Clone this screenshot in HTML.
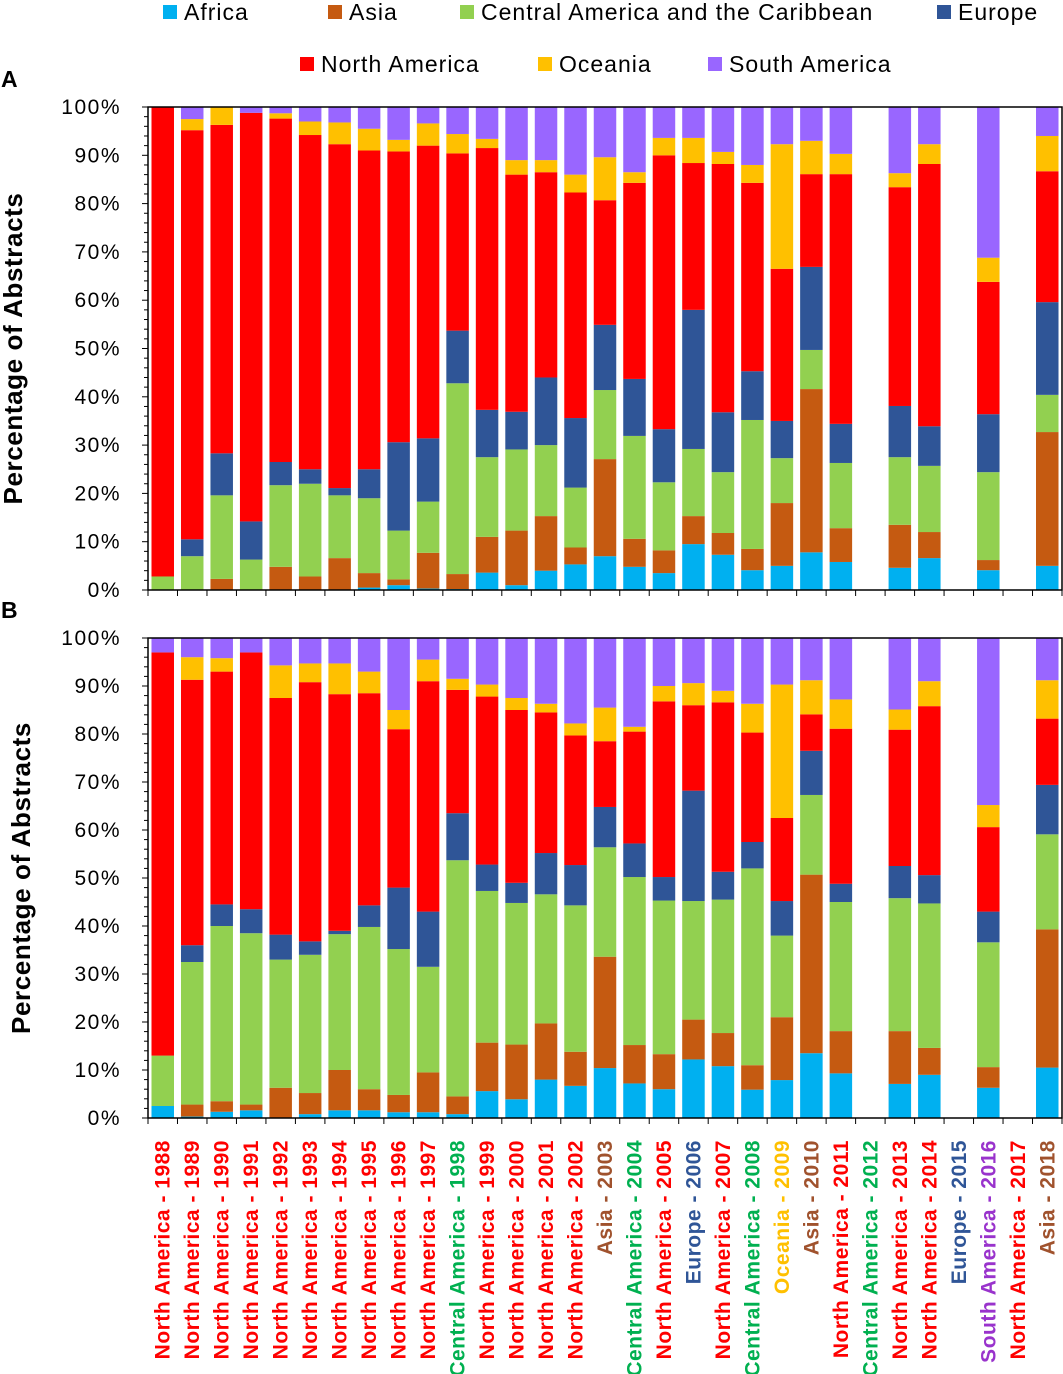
<!DOCTYPE html>
<html><head><meta charset="utf-8"><style>
body{margin:0;background:#fff;font-family:"Liberation Sans",Arial,sans-serif}
svg{display:block}
</style></head><body>
<svg id="chart" width="1063" height="1374" xmlns="http://www.w3.org/2000/svg" font-family="Liberation Sans, Arial, sans-serif"></svg>
<script>
const years = [1988,1989,1990,1991,1992,1993,1994,1995,1996,1997,1998,1999,2000,2001,2002,2003,2004,2005,2006,2007,2008,2009,2010,2011,2012,2013,2014,2015,2016,2017,2018];
const dominant = ["North America","North America","North America","North America","North America","North America","North America","North America","North America","North America","Central America","North America","North America","North America","North America","Asia","Central America","North America","Europe","North America","Central America","Oceania","Asia","North America","Central America","North America","North America","Europe","South America","North America","Asia"];
const seriesNames = ["Africa","Asia","Central America and the Caribbean","Europe","North America","Oceania","South America"];
const yTicks = [0,10,20,30,40,50,60,70,80,90,100];
// Panel A cumulative tops (%), null = no data
const aAfrica = [0,0,0,0,0,0,0,0.5,1,0.3,0.2,3.6,1,4,5.3,7,4.8,3.5,9.5,7.3,4.1,5,7.8,5.8,null,4.6,6.6,null,4.1,null,5];
const aAsia = [0,0,2.3,0,4.8,2.8,6.6,3.5,2.2,7.7,3.3,11,12.3,15.3,8.8,27.1,10.6,8.2,15.3,11.8,8.5,18,41.6,12.8,null,13.5,12,null,6.2,null,32.7];
const aCentral = [2.8,7,19.6,6.3,21.7,22,19.6,19,12.3,18.3,42.8,27.5,29.1,30,21.2,41.4,31.9,22.3,29.2,24.4,35.2,27.3,49.7,26.3,null,27.5,25.7,null,24.4,null,40.4];
const aEurope = [2.8,10.5,28.3,14.2,26.5,25,21.1,25,30.6,31.4,53.7,37.3,36.9,44,35.6,54.9,43.7,33.3,58,36.8,45.3,35,66.9,34.4,null,38.1,33.9,null,36.4,null,59.6];
const aNorth = [100,95.2,96.3,98.8,97.6,94.2,92.3,91,90.8,92,90.4,91.5,86,86.5,82.3,80.7,84.3,90,88.4,88.2,84.3,66.5,86.1,86.1,null,83.4,88.2,null,63.8,null,86.7];
const aOceania = [100,97.5,100,98.8,98.7,97,96.8,95.5,93.2,96.6,94.4,93.4,89,89,86,89.6,86.5,93.6,93.6,90.7,88,92.3,93,90.3,null,86.3,92.3,null,68.8,null,94];
// Panel B cumulative tops (%)
const bAfrica = [2.5,0.3,1.3,1.6,0,0.8,1.6,1.6,1.2,1.2,0.8,5.6,3.9,8,6.7,10.4,7.2,6,12.2,10.8,5.9,7.9,13.5,9.3,null,7.1,9,null,6.3,null,10.5];
const bAsia = [2.5,2.8,3.5,2.8,6.3,5.2,10,6,4.8,9.5,4.5,15.7,15.3,19.7,13.8,33.6,15.2,13.3,20.5,17.7,11,21,50.7,18.1,null,18.1,14.6,null,10.6,null,39.3];
const bCentral = [13,32.5,40,38.5,33,34,38.3,39.8,35.2,31.5,53.7,47.3,44.8,46.6,44.3,56.4,50.2,45.3,45.2,45.5,52,38,67.3,45,null,45.8,44.7,null,36.6,null,59.1];
const bEurope = [13,36,44.5,43.5,38.2,36.8,39,44.3,48,43,63.5,52.8,49,55.2,52.7,64.8,57.2,50.2,68.2,51.3,57.5,45.2,76.5,48.8,null,52.5,50.6,null,43,null,69.4];
const bNorth = [97,91.3,93,97,87.5,90.8,88.3,88.5,81,91,89.2,87.8,85,84.5,79.7,78.5,80.5,86.8,86,86.6,80.3,62.5,84.1,81.1,null,80.9,85.8,null,60.6,null,83.2];
const bOceania = [97,96,95.8,97,94.3,94.7,94.7,93,85,95.5,91.5,90.3,87.5,86.3,82.2,85.5,81.5,90,90.6,89,86.3,90.3,91.2,87.2,null,85.1,91,null,65.2,null,91.2];

const colors = ["#00B0F0","#C55A11","#92D050","#2F5597","#FF0000","#FFC000","#9966FF"];
const labelColors = {"North America":"#FF0000","Central America":"#00B050","Asia":"#A0522D","Europe":"#2F5597","Oceania":"#FFC000","South America":"#9933CC"};
const NS="http://www.w3.org/2000/svg";
const svg=document.getElementById('chart');
function mk(tag,attrs,parent){const e=document.createElementNS(NS,tag);for(const k in attrs)e.setAttribute(k,attrs[k]);(parent||svg).appendChild(e);return e;}
const L=148,R=1062,band=(R-L)/years.length,bw=22.5;
function xc(i){return L+band*(i+0.5);}

function panel(top,bottom,cums,letter,titleX,name){
  const g=mk('g',{});
  
  
  const y=v=>bottom-(bottom-top)*v/100;
  years.forEach((yr,i)=>{
    if(cums[0][i]===null)return;
    let prev=0;
    for(let s=0;s<7;s++){
      const c=s<6?cums[s][i]:100;
      if(c>prev){
        const r=mk('rect',{x:xc(i)-bw/2,y:y(c),width:bw,height:y(prev)-y(c),fill:colors[s]},g);
        
        
      }
      prev=Math.max(prev,c);
    }
  });
  const ax=mk('path',{d:`M${L} ${top}H${R}V${bottom}H${L}Z`,fill:'none',stroke:'#000','stroke-width':1.5},g);
  
  
  for(let v=0;v<=100;v+=2){mk('line',{x1:L-(v%10===0?6:4),x2:L,y1:y(v),y2:y(v),stroke:'#000','stroke-width':1},g);}
  for(let i=0;i<=years.length;i++){const xx=L+band*i;mk('line',{x1:xx,x2:xx,y1:bottom,y2:bottom+6,stroke:'#000','stroke-width':1},g);}
  yTicks.forEach(v=>{
    const t=mk('text',{x:121,y:y(v)+7,'text-anchor':'end','font-size':21,'letter-spacing':1.5},g);t.textContent=v+'%';
    
    
  });
  const tt=mk('text',{x:0,y:0,transform:`translate(${titleX},${(top+bottom)/2}) rotate(-90)`,'text-anchor':'middle','font-size':26,'font-weight':'bold','letter-spacing':0.6},g);
  tt.textContent='Percentage of Abstracts';
  
  
  const lt=mk('text',{x:1,y:top-20,'font-size':23,'font-weight':'bold'},g);lt.textContent=letter;
  
  
}
panel(107,590,[aAfrica,aAsia,aCentral,aEurope,aNorth,aOceania],'A',22,'panel-a');
panel(638,1118,[bAfrica,bAsia,bCentral,bEurope,bNorth,bOceania],'B',30,'panel-b');

years.forEach((yr,i)=>{
  const t=mk('text',{x:0,y:0,transform:`translate(${xc(i)+7},1140) rotate(-90)`,'text-anchor':'end','font-size':21,'letter-spacing':0.5,'font-weight':'bold',fill:labelColors[dominant[i]]});
  t.textContent=dominant[i]+' - '+yr;
  
  
});

const legendPos=[[163,12],[328,12],[460,12],[937,12],[300,64],[538,64],[708,64]];
const legendLabels=["Africa","Asia","Central America and the Caribbean","Europe","North America","Oceania","South America"];
legendLabels.forEach((n,s)=>{
  const g=mk('g',{});
  
  
  const [lx,ly]=legendPos[s];
  mk('rect',{x:lx,y:ly-7,width:14,height:14,fill:colors[s]},g);
  const t=mk('text',{x:lx+21,y:ly+8,'font-size':23,'letter-spacing':1},g);t.textContent=n;
});
</script>
</body></html>
